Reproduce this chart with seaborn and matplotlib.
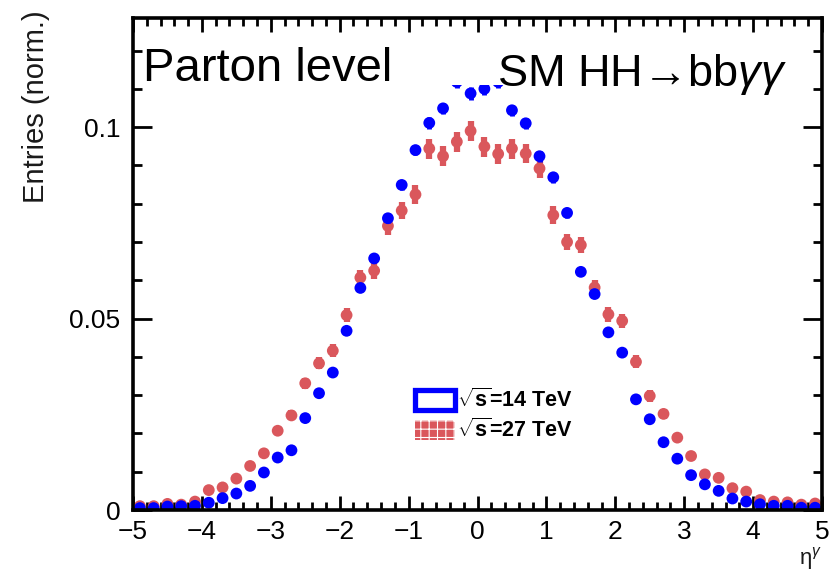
import matplotlib
matplotlib.use("Agg")
import matplotlib.pyplot as plt
import seaborn as sns
import pandas as pd
from matplotlib.patches import Patch, Rectangle
from matplotlib.ticker import MultipleLocator, FixedLocator, FuncFormatter

# ---------------- data ----------------
eta = [-4.9, -4.7, -4.5, -4.3, -4.1, -3.9, -3.7, -3.5, -3.3, -3.1,
       -2.9, -2.7, -2.5, -2.3, -2.1, -1.9, -1.7, -1.5, -1.3, -1.1,
       -0.9, -0.7, -0.5, -0.3, -0.1, 0.1, 0.3, 0.5, 0.7, 0.9,
       1.1, 1.3, 1.5, 1.7, 1.9, 2.1, 2.3, 2.5, 2.7, 2.9,
       3.1, 3.3, 3.5, 3.7, 3.9, 4.1, 4.3, 4.5, 4.7, 4.9]

entries_14 = [0.0005, 0.0005, 0.0009, 0.0010, 0.0011, 0.0019, 0.0031, 0.0043, 0.0063, 0.0098,
              0.0137, 0.0156, 0.0240, 0.0305, 0.0359, 0.0468, 0.0580, 0.0657, 0.0762, 0.0849,
              0.0940, 0.1011, 0.1049, 0.1118, 0.1088, 0.1100, 0.1118, 0.1044, 0.1010, 0.0924,
              0.0869, 0.0776, 0.0622, 0.0564, 0.0464, 0.0411, 0.0289, 0.0237, 0.0177, 0.0134,
              0.0091, 0.0067, 0.0050, 0.0030, 0.0022, 0.0015, 0.0011, 0.0011, 0.0006, 0.0006]
errors_14 = [0.0001, 0.0001, 0.0001, 0.0001, 0.0002, 0.0002, 0.0003, 0.0003, 0.0004, 0.0005,
             0.0006, 0.0006, 0.0007, 0.0008, 0.0009, 0.0010, 0.0011, 0.0012, 0.0013, 0.0014,
             0.0014, 0.0015, 0.0015, 0.0016, 0.0016, 0.0016, 0.0016, 0.0015, 0.0015, 0.0014,
             0.0014, 0.0013, 0.0012, 0.0011, 0.0010, 0.0010, 0.0008, 0.0007, 0.0006, 0.0005,
             0.0004, 0.0004, 0.0003, 0.0003, 0.0002, 0.0002, 0.0002, 0.0002, 0.0001, 0.0001]

entries_27 = [0.0010, 0.0010, 0.0016, 0.0014, 0.0022, 0.0052, 0.0059, 0.0082, 0.0115, 0.0148,
              0.0207, 0.0247, 0.0331, 0.0383, 0.0416, 0.0509, 0.0607, 0.0625, 0.0742, 0.0782,
              0.0824, 0.0944, 0.0924, 0.0962, 0.0990, 0.0949, 0.0930, 0.0944, 0.0931, 0.0892,
              0.0770, 0.0700, 0.0692, 0.0581, 0.0511, 0.0494, 0.0387, 0.0298, 0.0251, 0.0189,
              0.0141, 0.0093, 0.0084, 0.0057, 0.0048, 0.0026, 0.0022, 0.0020, 0.0014, 0.0017]
errors_27 = [0.0003, 0.0003, 0.0003, 0.0003, 0.0004, 0.0006, 0.0006, 0.0008, 0.0009, 0.0010,
             0.0012, 0.0013, 0.0015, 0.0016, 0.0017, 0.0019, 0.0021, 0.0021, 0.0023, 0.0023,
             0.0024, 0.0026, 0.0026, 0.0026, 0.0026, 0.0026, 0.0026, 0.0026, 0.0026, 0.0025,
             0.0023, 0.0022, 0.0022, 0.0020, 0.0019, 0.0019, 0.0017, 0.0015, 0.0013, 0.0012,
             0.0010, 0.0008, 0.0008, 0.0006, 0.0006, 0.0004, 0.0004, 0.0004, 0.0003, 0.0003]

series_labels = [r"$\mathbf{\sqrt{s}}$=14 TeV", r"$\mathbf{\sqrt{s}}$=27 TeV"]
x_ticks = [-5, -4, -3, -2, -1, 0, 1, 2, 3, 4, 5]
y_ticks = [0, 0.05, 0.1]

BLUE = "#0000ff"
RED = "#da575c"

# ---------------- style ----------------
sns.set_theme(style="white")
plt.rcParams["font.family"] = ["Liberation Sans", "DejaVu Sans"]
plt.rcParams["mathtext.fontset"] = "custom"
plt.rcParams["mathtext.rm"] = "Liberation Sans"
plt.rcParams["mathtext.it"] = "Liberation Sans:italic"
plt.rcParams["mathtext.bf"] = "Liberation Sans:bold"
plt.rcParams["hatch.linewidth"] = 0.8

df14 = pd.DataFrame({"eta": eta, "val": entries_14})
df27 = pd.DataFrame({"eta": eta, "val": entries_27})

fig = plt.figure(figsize=(8.33, 5.72), dpi=100)
ax = fig.add_axes([133 / 833, 1 - 510 / 572, 689 / 833, 492 / 572])

# 27 TeV first (underneath), then 14 TeV on top
ax.errorbar(eta, entries_27, yerr=errors_27, fmt="none", ecolor=RED,
            elinewidth=4.5, capsize=0, zorder=1.8)
sns.scatterplot(data=df27, x="eta", y="val", color=RED, s=72, marker="o",
                edgecolor="none", linewidth=0, legend=False, ax=ax, zorder=1.9)
ax.errorbar(eta, entries_14, yerr=errors_14, fmt="none", ecolor=BLUE,
            elinewidth=3.5, capsize=0, zorder=2.0)
sns.scatterplot(data=df14, x="eta", y="val", color=BLUE, s=72, marker="o",
                edgecolor="none", linewidth=0, legend=False, ax=ax, zorder=2.1)

# white box behind the process label (hides the top of the peak)
ax.add_patch(Rectangle((0.44, 0.864), 0.545, 0.105, transform=ax.transAxes,
                       facecolor="white", edgecolor="none", zorder=2.3))

ax.set_xlim(-5, 5)
ax.set_ylim(0, 0.1285)

ax.xaxis.set_major_locator(FixedLocator(x_ticks))
ax.xaxis.set_minor_locator(MultipleLocator(0.2))
ax.yaxis.set_major_locator(FixedLocator(y_ticks))
ax.yaxis.set_minor_locator(MultipleLocator(0.01))
ax.yaxis.set_major_formatter(FuncFormatter(lambda v, p: "%g" % v))

for sp in ax.spines.values():
    sp.set_visible(True)
    sp.set_color("black")
    sp.set_linewidth(2.6)

ax.tick_params(which="both", direction="in", top=True, right=True,
               bottom=True, left=True, color="black", width=2.0,
               labelsize=19, labelcolor="black")
ax.tick_params(axis="x", which="major", length=10, pad=7)
ax.tick_params(axis="x", which="minor", length=5.5)
ax.tick_params(axis="y", which="major", length=14, pad=9)
ax.tick_params(axis="y", which="minor", length=6.5)

ax.set_ylabel("Entries (norm.)", fontsize=21, loc="top", color="#1a1a1a")
ax.yaxis.set_label_coords(-0.12, 1.015)
ax.set_xlabel(r"$\mathrm{\eta}^{\gamma}$", fontsize=16, loc="right", color="#1a1a1a")
ax.xaxis.set_label_coords(1.0, -0.071)

ax.text(0.0145, 0.872, "Parton level", transform=ax.transAxes, fontsize=34,
        ha="left", va="baseline", color="black", zorder=5)
ax.text(0.528, 0.862, r"SM HH→bb$\gamma\gamma$", transform=ax.transAxes,
        fontsize=32.5, ha="left", va="baseline", color="black", zorder=5)

handles = [Patch(facecolor="white", edgecolor=BLUE, linewidth=3.8),
           Patch(facecolor=RED, edgecolor="white", hatch="++", linewidth=0)]
leg = ax.legend(handles=handles, labels=series_labels, loc="upper left",
                bbox_to_anchor=(0.409, 0.246), frameon=False,
                prop={"weight": "bold", "size": 15.5}, labelcolor="black",
                handlelength=1.85, handleheight=1.05, handletextpad=0.1,
                labelspacing=0.3, borderpad=0, borderaxespad=0)

fig.savefig("out.png", dpi=100)
